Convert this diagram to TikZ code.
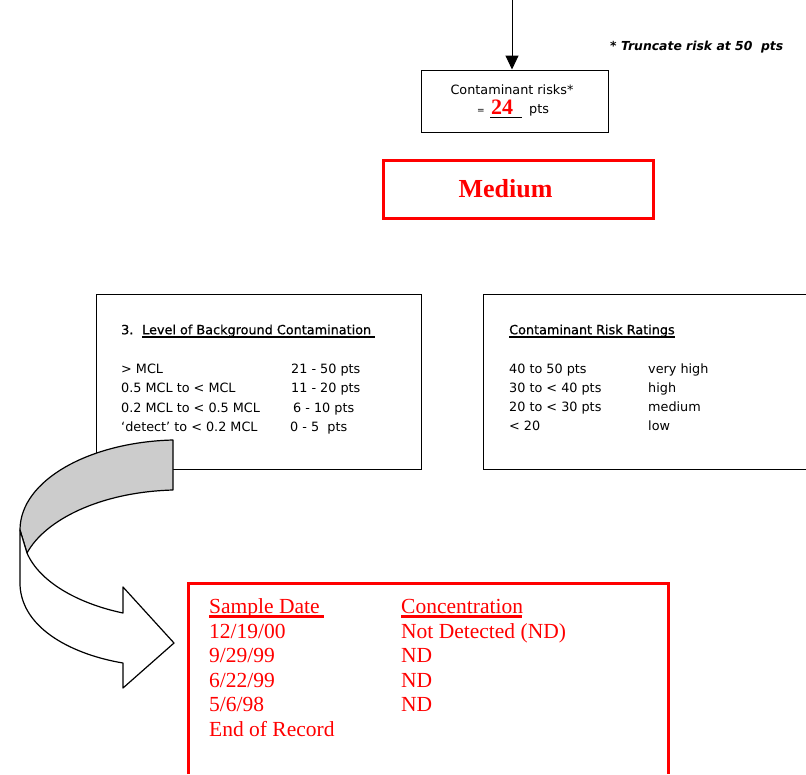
\documentclass[tikz,border=0pt]{standalone}
\usepackage{fontspec}
\setmainfont{Liberation Serif}
\newfontfamily\gen{DejaVu Sans}
\newfontfamily\genhead[FakeBold=0.6]{DejaVu Sans}
\usetikzlibrary{arrows.meta}
\definecolor{alert}{RGB}{255,0,0}
\definecolor{bandgray}{RGB}{204,204,204}
\tikzset{
  plainbox/.style={draw=black, line width=1pt},
  redbox/.style={draw=alert, line width=3pt},
  small/.style={font=\gen\fontsize{12.8}{15}\selectfont, inner sep=0pt, anchor=mid west},
  head/.style={font=\genhead\fontsize{12.8}{15}\selectfont, inner sep=0pt, anchor=mid west},
  redtxt/.style={font=\fontsize{21.5}{24}\selectfont, text=alert, inner sep=0pt, anchor=mid west},
  uline/.style={line width=1.8pt},
  redline/.style={draw=alert, line width=2.5pt},
  band/.style={draw=black, line width=1.2pt, line join=round},
}
\begin{document}
\begin{tikzpicture}[x=1pt,y=-1pt]
\useasboundingbox (0,0) rectangle (806,774);

% ---- total score box with incoming arrow ----
\coordinate (in) at (512,0);
\node[plainbox, minimum width=187pt, minimum height=62pt] (risk) at (514.5,101) {};
\draw[line width=1pt, -{Triangle[width=13pt,length=14pt]}] (in) -- (in |- risk.north);
\node[small, anchor=center] (risklbl) at (512,90) {Contaminant risks*};
\node[font=\gen\fontsize{9}{10}\selectfont, inner sep=0pt] (eq) at (481,111) {=};
\coordinate (blankA) at (490,117);
\coordinate (blankB) at (522,117);
\draw[line width=0.8pt] (blankA) -- (blankB);
\node[font=\bfseries\fontsize{22}{22}\selectfont, text=alert, inner sep=0pt] (score) at (502,107.5) {24};
\node[small] (ptsA) at (529,111) {pts};

\node[font=\gen\bfseries\itshape\fontsize{12.4}{14}\selectfont, inner sep=0pt, anchor=mid west] (note) at (610,48) {* Truncate risk at 50~~pts};

% ---- rating box ----
\node[redbox, minimum width=270pt, minimum height=58pt] (rating) at (518,189) {};
\node[font=\bfseries\fontsize{26}{26}\selectfont, text=alert, inner sep=0pt] (ratinglbl) at (505.5,189) {Medium};

% ---- background contamination table ----
\node[plainbox, minimum width=325pt, minimum height=175pt] (bg) at (258.5,381.5) {};
\node[head] (bgnum) at (121,332) {3.};
\node[head] (bgtitle) at (142,332) {Level of Background Contamination};
\draw[uline] ([yshift=-3pt]bgtitle.base west) -- ++(233,0);
\node[small] (bgL1) at (121,371) {> MCL};
\node[small] (bgL2) at (121,390) {0.5 MCL to < MCL};
\node[small] (bgL3) at (121,410) {0.2 MCL to < 0.5 MCL};
\node[small] (bgL4) at (121,429) {‘detect’ to < 0.2 MCL};
\node[small] (bgR1) at (291,371) {21 - 50 pts};
\node[small] (bgR2) at (291,390) {11 - 20 pts};
\node[small] (bgR3) at (293,410) {6 - 10 pts};
\node[small] (bgR4) at (290,429) {0 - 5~~pts};

% ---- risk ratings table ----
\draw[plainbox] (806,294) -- (483,294) -- (483,469) -- (806,469);
\node[head] (rrtitle) at (509,332) {Contaminant Risk Ratings};
\draw[uline] ([yshift=-3pt]rrtitle.base west) -- ++(166,0);
\node[small] (rrL1) at (509,371) {40 to 50 pts};
\node[small] (rrL2) at (509,390) {30 to < 40 pts};
\node[small] (rrL3) at (509,409) {20 to < 30 pts};
\node[small] (rrL4) at (509,428) {< 20};
\node[small] (rrR1) at (648,371) {very high};
\node[small] (rrR2) at (648,390) {high};
\node[small] (rrR3) at (648,409) {medium};
\node[small] (rrR4) at (648,428) {low};

% ---- curved ribbon arrow ----
\filldraw[band, fill=bandgray]
  (173,440) .. controls (90,442) and (20,480) .. (20,530)
  -- (27,553) .. controls (45,520) and (100,492) .. (173,490) -- cycle;
\filldraw[band, fill=white]
  (20,530) -- (20,585) .. controls (22,630) and (75,655) .. (123,663)
  -- (123,688) -- (174,643) -- (123,587) -- (123,613)
  .. controls (80,604) and (40,583) .. (27,553) -- cycle;

% ---- sample record box ----
\draw[redbox] (188,774) -- (188,583) -- (668,583) -- (668,774);
\node[redtxt] (hdDate) at (209,611) {Sample Date};
\node[redtxt] (hdConc) at (401,611) {Concentration};
\draw[redline] ([yshift=-3pt]hdDate.base west) -- ++(115,0);
\draw[redline] ([yshift=-3pt]hdConc.base west) -- ++(121,0);
\node[redtxt] (d1) at (209,636) {12/19/00};
\node[redtxt] (d2) at (209,660) {9/29/99};
\node[redtxt] (d3) at (209,685) {6/22/99};
\node[redtxt] (d4) at (209,709) {5/6/98};
\node[redtxt] (d5) at (209,734) {End of Record};
\node[redtxt] (c1) at (401,636) {Not Detected (ND)};
\node[redtxt] (c2) at (401,660) {ND};
\node[redtxt] (c3) at (401,685) {ND};
\node[redtxt] (c4) at (401,709) {ND};
\end{tikzpicture}
\end{document}
